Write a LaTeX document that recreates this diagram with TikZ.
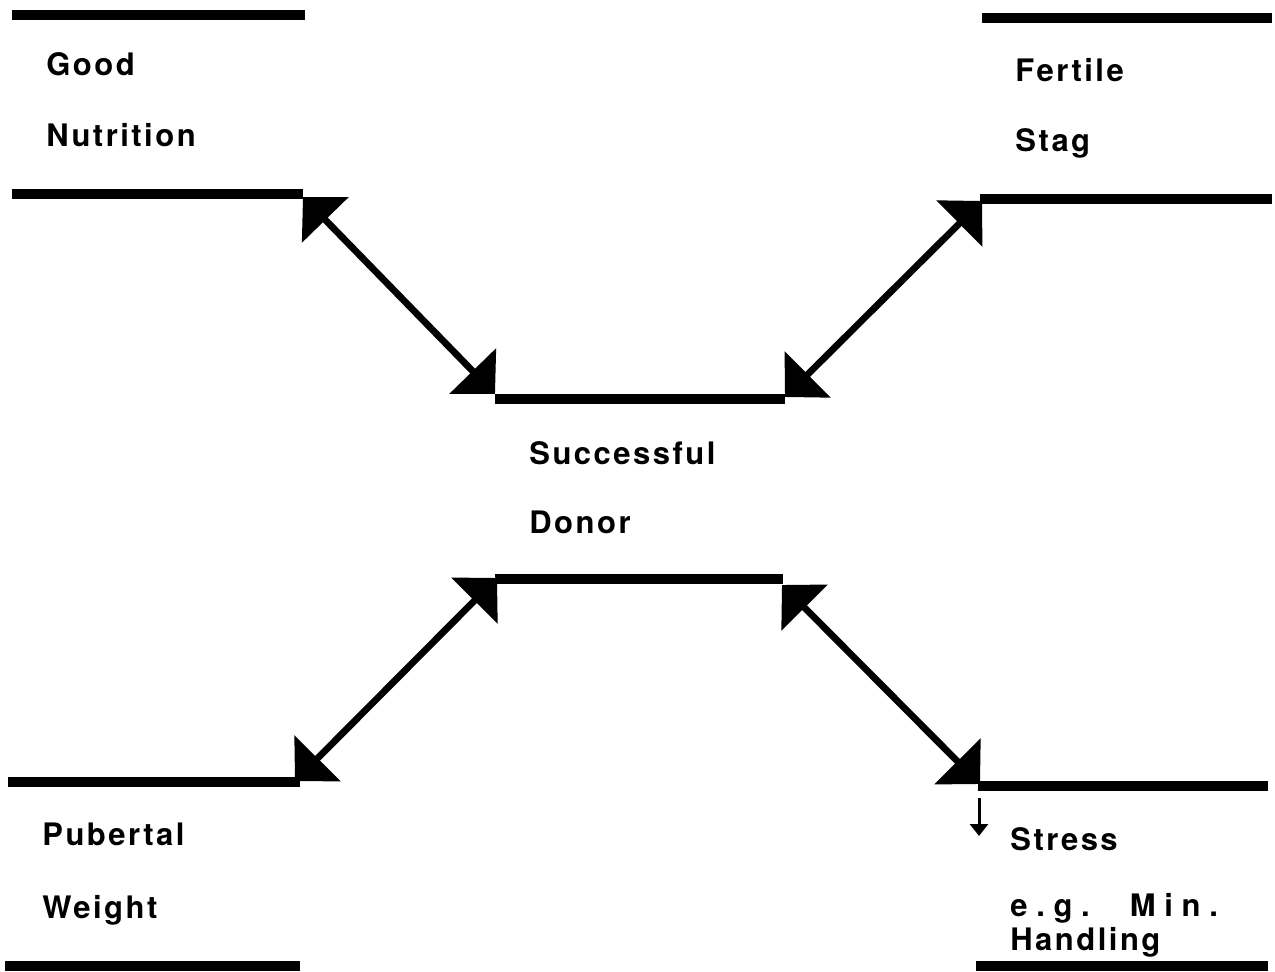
\documentclass[tikz,border=0pt]{standalone}
\usepackage{fontspec}
\setmainfont{TeX Gyre Heros}
\newfontfamily\lblfont[LetterSpace=8]{TeX Gyre Heros}
\newfontfamily\widefont[LetterSpace=28]{TeX Gyre Heros}
\usetikzlibrary{arrows.meta}
\begin{document}
\begin{tikzpicture}[x=0.5pt,y=-0.5pt,
  bar/.style={line width=5pt},
  link/.style={line width=3.4pt,{Triangle[length=16pt,width=32pt]}-{Triangle[length=16pt,width=32pt]}},
  smallarrow/.style={line width=1.5pt,-{Triangle[length=6pt,width=9pt]}},
  lbl/.style={anchor=base west,inner sep=0pt,font=\lblfont\bfseries\fontsize{15.5pt}{18pt}\selectfont},
  widelbl/.style={anchor=base west,inner sep=0pt,font=\widefont\bfseries\fontsize{15.5pt}{18pt}\selectfont}]
\useasboundingbox (0,0) rectangle (1275,972);
% bars
\draw[bar] (12,15) -- (305,15);
\draw[bar] (12,194) -- (303,194);
\draw[bar] (982,18) -- (1272,18);
\draw[bar] (980,199) -- (1272,199);
\draw[bar] (495,399) -- (785,399);
\draw[bar] (495,579) -- (783,579);
\draw[bar] (8,782) -- (300,782);
\draw[bar] (5,966) -- (300,966);
\draw[bar] (978,786) -- (1268,786);
\draw[bar] (976,966) -- (1268,966);
% labels
\node[lbl] (good) at (46,76) {Good};
\node[lbl] (nutr) at (46,147) {Nutrition};
\node[lbl] (fert) at (1015,82) {Fertile};
\node[lbl] (stag) at (1015,152) {Stag};
\node[lbl] (succ) at (529,465) {Successful};
\node[lbl] (donor) at (529,534) {Donor};
\node[lbl] (pub) at (42,845) {Pubertal};
\node[lbl] (wt) at (42,918) {Weight};
\node[lbl] (stress) at (1010,850) {Stress};
\node[widelbl] (eg) at (1010,916) {e.g.\hspace{20pt}Min.};
\node[lbl] (hand) at (1010,950) {Handling};
% connector ends
\coordinate (gnC) at (303,197);
\coordinate (fsC) at (982,201);
\coordinate (pwC) at (295,781);
\coordinate (stC) at (980,784);
\coordinate (sdTL) at (495,394);
\coordinate (sdTR) at (785,397);
\coordinate (sdBL) at (497,578);
\coordinate (sdBR) at (782,585);
\coordinate (sa1) at (979,798);
\coordinate (sa2) at (979,836);
% connectors
\draw[link] (gnC) -- (sdTL);
\draw[link] (fsC) -- (sdTR);
\draw[link] (pwC) -- (sdBL);
\draw[link] (stC) -- (sdBR);
\draw[smallarrow] (sa1) -- (sa2);
\end{tikzpicture}
\end{document}
